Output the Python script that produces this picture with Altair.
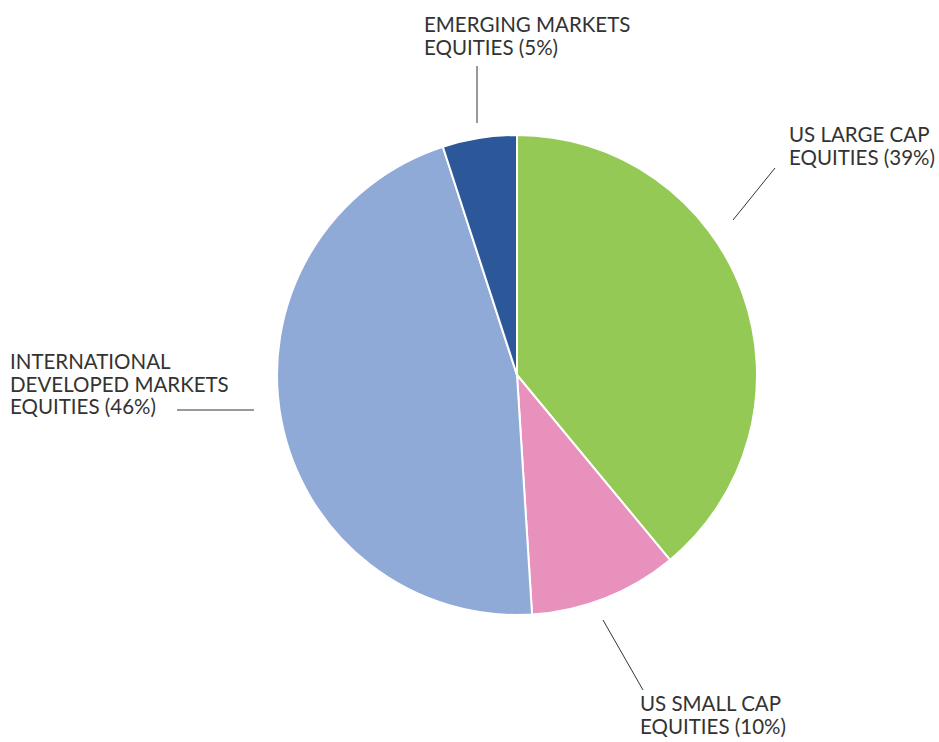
import altair as alt
import pandas as pd

# Data
categories = ["US LARGE CAP EQUITIES", "US SMALL CAP EQUITIES",
              "INTERNATIONAL DEVELOPED MARKETS EQUITIES", "EMERGING MARKETS EQUITIES"]
shares = [39, 10, 46, 5]
colors = ["#95C955", "#E891BD", "#90AAD7", "#2C5899"]
label_texts = ["US LARGE CAP\nEQUITIES (39%)", "US SMALL CAP\nEQUITIES (10%)",
               "INTERNATIONAL\nDEVELOPED MARKETS\nEQUITIES (46%)", "EMERGING MARKETS\nEQUITIES (5%)"]

pie = pd.DataFrame({"category": categories, "share": shares, "order": list(range(len(categories)))})

# Annotation layout (pixel frame of the 939x742 canvas)
label_layout = pd.DataFrame({
    "text": label_texts,
    "x": [789, 640, 10, 424],
    "y": [126, 695, 353, 16],
})
leader_layout = pd.DataFrame({
    "x": [733, 603, 177, 477],
    "y": [220, 620, 410, 66],
    "x2": [775, 643, 254, 477],
    "y2": [168, 690, 410, 123],
})

W, H = 939, 742
CX, CY, R = 517, 375, 240

xs = alt.Scale(domain=[0, W], nice=False, zero=False)
ys = alt.Scale(domain=[0, H], nice=False, zero=False, reverse=True)

arcs = alt.Chart(pie).mark_arc(radius=R, stroke="white", strokeWidth=2).encode(
    theta=alt.Theta("share:Q", stack=True),
    color=alt.Color("category:N", scale=alt.Scale(domain=categories, range=colors), legend=None),
    order=alt.Order("order:Q"),
    x=alt.value(CX),
    y=alt.value(CY),
)

labels = alt.Chart(label_layout).mark_text(
    align="left", baseline="top", font="Lato", fontSize=20.5, lineBreak="\n",
    lineHeight=22.5, color="#333333"
).encode(
    x=alt.X("x:Q", scale=xs, axis=None),
    y=alt.Y("y:Q", scale=ys, axis=None),
    text="text:N",
)

leaders = alt.Chart(leader_layout).mark_rule(color="#333333", strokeWidth=1).encode(
    x=alt.X("x:Q", scale=xs, axis=None),
    y=alt.Y("y:Q", scale=ys, axis=None),
    x2="x2:Q",
    y2="y2:Q",
)

chart = alt.layer(arcs, leaders, labels).properties(
    width=W, height=H, padding=0, autosize=alt.AutoSizeParams(type="none"),
    background="white"
).configure_view(stroke=None)

chart.save("out.html", embed_options={"renderer": "svg", "actions": False})
